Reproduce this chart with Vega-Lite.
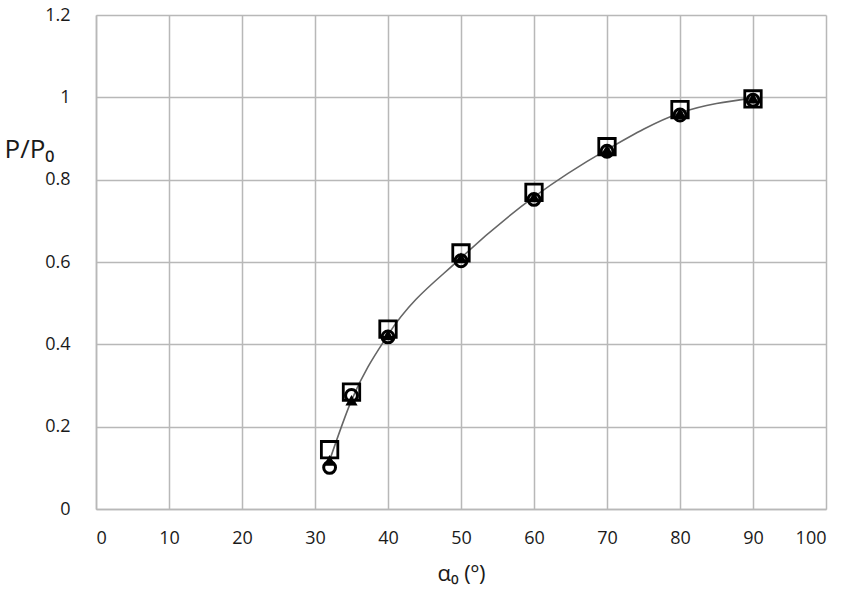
{
  "$schema": "https://vega.github.io/schema/vega-lite/v6.json",
  "width": 730,
  "height": 494,
  "autosize": {"type": "none"},
  "padding": {"left": 96, "top": 15, "right": 26, "bottom": 91},
  "background": "white",
  "config": {
    "view": {"stroke": null},
    "font": "Open Sans",
    "axis": {
      "gridColor": "#b8b8b8",
      "gridWidth": 1.5,
      "domainColor": "#b8b8b8",
      "domainWidth": 1.5,
      "ticks": false,
      "labelFont": "Open Sans",
      "labelFontSize": 18,
      "labelColor": "#1a1a1a",
      "titleFont": "Open Sans",
      "titleFontWeight": "normal",
      "titleColor": "#1a1a1a"
    }
  },
  "data": {
    "values": [
      {"alpha": 32, "series": "square", "P": 0.144},
      {"alpha": 35, "series": "square", "P": 0.284},
      {"alpha": 40, "series": "square", "P": 0.437},
      {"alpha": 50, "series": "square", "P": 0.622},
      {"alpha": 60, "series": "square", "P": 0.769},
      {"alpha": 70, "series": "square", "P": 0.88},
      {"alpha": 80, "series": "square", "P": 0.97},
      {"alpha": 90, "series": "square", "P": 0.996},
      {"alpha": 32, "series": "triangle", "P": 0.118},
      {"alpha": 35, "series": "triangle", "P": 0.264},
      {"alpha": 40, "series": "triangle", "P": 0.423},
      {"alpha": 50, "series": "triangle", "P": 0.61},
      {"alpha": 60, "series": "triangle", "P": 0.758},
      {"alpha": 70, "series": "triangle", "P": 0.873},
      {"alpha": 80, "series": "triangle", "P": 0.962},
      {"alpha": 90, "series": "triangle", "P": 0.998},
      {"alpha": 32, "series": "circle", "P": 0.101},
      {"alpha": 35, "series": "circle", "P": 0.276},
      {"alpha": 40, "series": "circle", "P": 0.418},
      {"alpha": 50, "series": "circle", "P": 0.603},
      {"alpha": 60, "series": "circle", "P": 0.752},
      {"alpha": 70, "series": "circle", "P": 0.869},
      {"alpha": 80, "series": "circle", "P": 0.957},
      {"alpha": 90, "series": "circle", "P": 0.993}
    ]
  },
  "encoding": {
    "x": {
      "field": "alpha",
      "type": "quantitative",
      "scale": {"domain": [0, 100], "nice": false},
      "axis": {
        "values": [0, 10, 20, 30, 40, 50, 60, 70, 80, 90, 100],
        "labelPadding": 20,
        "title": "α₀ (º)",
        "titleFontSize": 22,
        "titlePadding": 16
      }
    },
    "y": {
      "field": "P",
      "type": "quantitative",
      "scale": {"domain": [0, 1.2], "nice": false},
      "axis": {
        "values": [0, 0.2, 0.4, 0.6, 0.8, 1, 1.2],
        "format": "~g",
        "labelPadding": 26,
        "title": "P/P₀",
        "titleFontSize": 26,
        "titleAngle": 0,
        "titleAlign": "left",
        "titleBaseline": "middle",
        "titleX": -92,
        "titleY": 134
      }
    }
  },
  "layer": [
    {
      "transform": [{"filter": "datum.series === 'triangle'"}],
      "mark": {"type": "line", "color": "#666", "strokeWidth": 1.6, "interpolate": "monotone"}
    },
    {
      "transform": [{"filter": "datum.series === 'square'"}],
      "mark": {"type": "point", "shape": "square", "size": 270, "filled": false, "stroke": "black", "strokeWidth": 2.8, "opacity": 1}
    },
    {
      "transform": [{"filter": "datum.series === 'circle'"}],
      "mark": {"type": "point", "shape": "circle", "size": 140, "filled": false, "stroke": "black", "strokeWidth": 3, "opacity": 1}
    },
    {
      "transform": [{"filter": "datum.series === 'triangle'"}],
      "mark": {"type": "point", "shape": "triangle-up", "size": 150, "filled": true, "color": "black", "opacity": 1}
    }
  ]
}
